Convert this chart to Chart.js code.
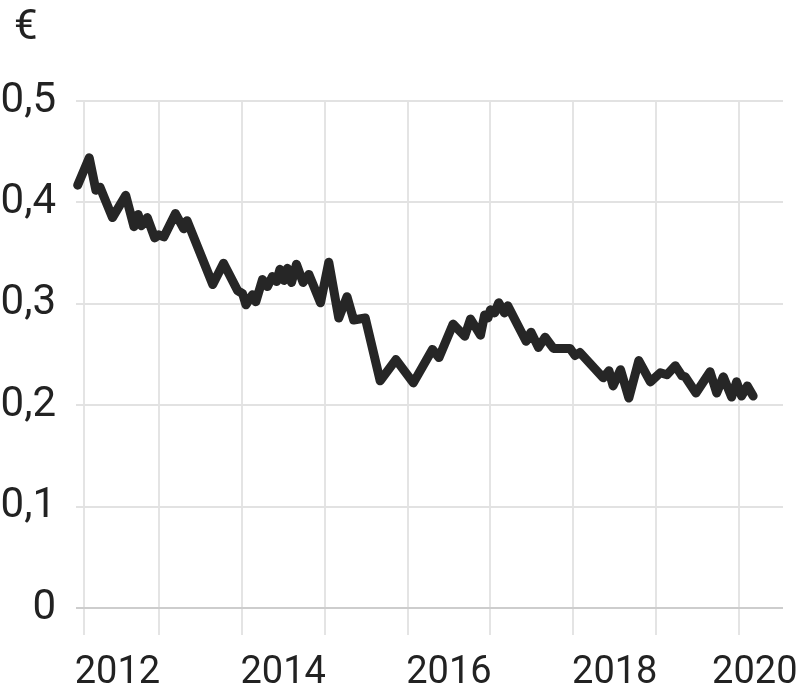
<!DOCTYPE html>
<html>
<head>
<meta charset="utf-8">
<script src="https://cdn.jsdelivr.net/npm/chart.js@4"></script>
<style>
  body { margin: 0; background: #fff; }
  #chartContainer { width: 800px; height: 686px; }
</style>
</head>
<body>
<div id="chartContainer"><canvas id="priceChart"></canvas></div>
<script>
// Price over time, dates as decimal years
const dates = [
    2012.02, 2012.16, 2012.24, 2012.29, 2012.44, 2012.60, 2012.70, 2012.75, 2012.79, 2012.86,
    2012.95, 2013.00, 2013.06, 2013.20, 2013.30, 2013.34, 2013.65, 2013.78, 2013.95, 2014.01,
    2014.05, 2014.13, 2014.17, 2014.25, 2014.31, 2014.37, 2014.42, 2014.46, 2014.51, 2014.55,
    2014.60, 2014.66, 2014.74, 2014.81, 2014.95, 2015.05, 2015.17, 2015.27, 2015.35, 2015.49,
    2015.67, 2015.86, 2016.07, 2016.30, 2016.38, 2016.55, 2016.69, 2016.76, 2016.88, 2016.93,
    2016.97, 2017.00, 2017.05, 2017.10, 2017.17, 2017.21, 2017.43, 2017.49, 2017.58, 2017.66,
    2017.76, 2017.96, 2018.02, 2018.08, 2018.36, 2018.43, 2018.48, 2018.57, 2018.67, 2018.79,
    2018.93, 2019.05, 2019.13, 2019.23, 2019.31, 2019.35, 2019.48, 2019.65, 2019.73, 2019.81,
    2019.91, 2019.97, 2020.03, 2020.10, 2020.17
];
const prices = [
    0.417, 0.444, 0.412, 0.415, 0.385, 0.407, 0.376, 0.388, 0.377, 0.385,
    0.365, 0.368, 0.366, 0.389, 0.374, 0.382, 0.319, 0.340, 0.313, 0.310,
    0.299, 0.309, 0.302, 0.324, 0.317, 0.327, 0.322, 0.334, 0.323, 0.335,
    0.321, 0.339, 0.321, 0.329, 0.301, 0.341, 0.286, 0.307, 0.284, 0.286,
    0.224, 0.245, 0.222, 0.255, 0.247, 0.280, 0.268, 0.285, 0.269, 0.289,
    0.286, 0.294, 0.291, 0.301, 0.291, 0.298, 0.263, 0.272, 0.257, 0.267,
    0.256, 0.256, 0.249, 0.252, 0.227, 0.234, 0.219, 0.235, 0.207, 0.244,
    0.223, 0.232, 0.230, 0.239, 0.229, 0.228, 0.212, 0.233, 0.212, 0.228,
    0.208, 0.223, 0.209, 0.219, 0.209
];

const yTicks = [0, 0.1, 0.2, 0.3, 0.4, 0.5];
const yTickLabels = ["0", "0,1", "0,2", "0,3", "0,4", "0,5"];
const gridYears = [2012.1, 2013, 2014, 2015, 2016, 2017, 2018, 2019, 2020];
const labelYears = [2012, 2014, 2016, 2018, 2020];
const UNIT = "€";

const X_MIN = 2012;
const X_MAX = 2020.53;

const textColor = "#222";
const fontFamily = "Roboto, 'Noto Sans', sans-serif";

// unit above the y axis
const unitLabel = {
    id: "unitLabel",
    afterDraw(chart) {
        const ctx = chart.ctx;
        ctx.save();
        ctx.font = "42px " + fontFamily;
        ctx.fillStyle = textColor;
        ctx.textBaseline = "alphabetic";
        ctx.textAlign = "left";
        ctx.fillText(UNIT, 14, 39);
        ctx.restore();
    }
};

const ctx = document.getElementById("priceChart").getContext("2d");
new Chart(ctx, {
    type: "line",
    data: {
        datasets: [{
            data: dates.map((d, i) => ({ x: d, y: prices[i] })),
            borderColor: "#262626",
            borderWidth: 9,
            borderJoinStyle: "round",
            borderCapStyle: "round",
            pointRadius: 0,
            tension: 0,
            clip: 6,
            xAxisID: "x",
            yAxisID: "y"
        }]
    },
    options: {
        responsive: true,
        maintainAspectRatio: false,
        animation: false,
        layout: { autoPadding: false, padding: { top: 101, right: 17, bottom: 0, left: 0 } },
        plugins: {
            legend: { display: false },
            tooltip: { enabled: false }
        },
        scales: {
            // year grid lines with long tick marks
            x: {
                type: "linear",
                position: "bottom",
                weight: 0,
                min: X_MIN,
                max: X_MAX,
                afterBuildTicks: axis => { axis.ticks = gridYears.map(v => ({ value: v })); },
                afterFit: axis => { axis.height = 38; },
                grid: { color: "#e4e4e4", lineWidth: 2, drawTicks: true, tickLength: 27 },
                border: { display: false },
                ticks: { display: false }
            },
            // year labels, centred in the middle of the year
            xLabels: {
                type: "linear",
                position: "bottom",
                weight: 1,
                min: X_MIN,
                max: X_MAX,
                afterBuildTicks: axis => {
                    // the last label is pulled in so it stays on the canvas
                    axis.ticks = labelYears.map(y => ({ value: Math.min(y + 0.5, X_MAX - 0.34) }));
                },
                afterFit: axis => { axis.height = 40; },
                grid: { display: false },
                border: { display: false },
                ticks: {
                    autoSkip: false,
                    maxRotation: 0,
                    padding: 0,
                    color: textColor,
                    font: { family: fontFamily, size: 38, lineHeight: 1 },
                    callback: (v, i) => String(labelYears[i])
                }
            },
            y: {
                min: 0,
                max: 0.5,
                afterBuildTicks: axis => { axis.ticks = yTicks.map(v => ({ value: v })); },
                afterFit: axis => { axis.width = 76; },
                grid: {
                    color: c => (c.tick && c.tick.value === 0 ? "#cdcdcd" : "#e2e2e2"),
                    lineWidth: 2,
                    drawTicks: false
                },
                border: { display: false },
                ticks: {
                    padding: 20,
                    color: textColor,
                    font: { family: fontFamily, size: 42 },
                    callback: (v, i) => yTickLabels[i]
                }
            }
        }
    },
    plugins: [unitLabel]
});
</script>
</body>
</html>
